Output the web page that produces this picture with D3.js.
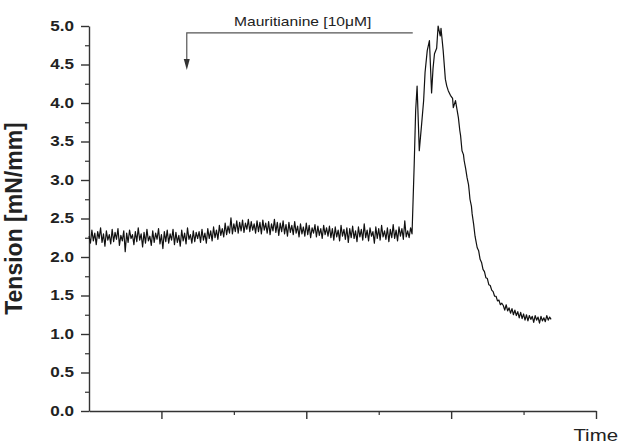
<!DOCTYPE html>
<html>
<head>
<meta charset="utf-8">
<script src="https://cdn.jsdelivr.net/npm/d3@7"></script>
<style>
  body { margin: 0; background: #fff; }
  text { font-family: "Liberation Sans", Arial, sans-serif; }
</style>
</head>
<body>
<div id="viz"></div>
<script>
// recording before the drug effect, one sample every 2 time units from t=0
var baseStep = 2;
var baseVals = [
  2.27, 2.18, 2.35, 2.21, 2.31, 2.16, 2.33, 2.24, 2.38, 2.19,
  2.30, 2.14, 2.34, 2.22, 2.29, 2.17, 2.36, 2.20, 2.32, 2.23,
  2.37, 2.15, 2.28, 2.21, 2.34, 2.07, 2.31, 2.19, 2.35, 2.24,
  2.29, 2.16, 2.33, 2.20, 2.38, 2.22, 2.30, 2.13, 2.32, 2.18,
  2.36, 2.21, 2.27, 2.15, 2.34, 2.19, 2.31, 2.23, 2.37, 2.17,
  2.29, 2.11, 2.33, 2.20, 2.35, 2.18, 2.30, 2.22, 2.36, 2.16,
  2.32, 2.19, 2.28, 2.14, 2.35, 2.21, 2.31, 2.17, 2.38, 2.23,
  2.29, 2.18, 2.34, 2.20, 2.32, 2.24,
  2.33, 2.19, 2.36, 2.22, 2.31, 2.18, 2.37, 2.24, 2.34, 2.21,
  2.39, 2.25, 2.35, 2.23, 2.41, 2.28, 2.37, 2.26, 2.44, 2.29,
  2.40, 2.31, 2.51, 2.30, 2.43, 2.33, 2.47, 2.31, 2.45, 2.34,
  2.48, 2.32, 2.44, 2.36, 2.49, 2.33, 2.46, 2.35, 2.43, 2.31,
  2.47, 2.33, 2.45, 2.30, 2.48, 2.35, 2.44, 2.31, 2.46, 2.29,
  2.43, 2.34, 2.49, 2.32, 2.45, 2.28, 2.44, 2.33, 2.47, 2.30,
  2.42, 2.27, 2.45, 2.32, 2.41, 2.29, 2.46, 2.31, 2.40, 2.26,
  2.43, 2.30, 2.39, 2.27, 2.44, 2.29, 2.41, 2.25, 2.38, 2.31,
  2.42, 2.26, 2.40, 2.28, 2.37, 2.24, 2.41, 2.29, 2.38, 2.27,
  2.40, 2.25, 2.37, 2.22, 2.39, 2.26, 2.35, 2.21, 2.41, 2.27,
  2.36, 2.23, 2.38, 2.19, 2.37, 2.25, 2.40, 2.24, 2.34, 2.20,
  2.39, 2.26, 2.36, 2.22, 2.43, 2.25, 2.35, 2.21, 2.38, 2.27,
  2.33, 2.18, 2.39, 2.24, 2.37, 2.22, 2.41, 2.26, 2.34, 2.23,
  2.38, 2.20, 2.36, 2.25, 2.42, 2.24, 2.35, 2.21, 2.39, 2.27,
  2.37, 2.23, 2.47, 2.26, 2.34, 2.25, 2.38, 2.30
];

// contraction and relaxation
var peakT = [449, 451, 453, 456, 459, 462, 464, 467, 470, 473, 475, 477, 480, 482, 485, 486, 489,
  492, 494, 496, 499, 502, 503, 506,
  510, 512, 513, 515, 517, 518, 520, 522, 524, 525, 526, 528, 529, 531, 533, 534, 536, 538,
  540, 542, 544, 546, 548, 550, 552, 554, 556, 558, 560, 562, 564, 566, 568, 570];
var peakV = [3.20, 3.90, 4.22, 3.38, 3.70, 4.03, 4.40, 4.68, 4.81, 4.13, 4.45, 4.64, 4.71, 5.00, 4.87, 4.97, 4.68,
  4.31, 4.22, 4.16, 4.10, 4.06, 3.94, 4.03,
  3.81, 3.64, 3.58, 3.38, 3.33, 3.25, 3.15, 3.03, 2.94, 2.85, 2.75, 2.66, 2.56, 2.43, 2.27, 2.22, 2.12, 2.08,
  1.97, 1.93, 1.84, 1.81, 1.73, 1.72, 1.64, 1.63, 1.57, 1.55, 1.49, 1.49, 1.43, 1.44, 1.38, 1.40];

// plateau after washout, one sample every 2 time units from t=572
var tailStart = 572;
var tailVals = [
  1.37, 1.31, 1.38, 1.30, 1.34, 1.27, 1.33, 1.25, 1.31, 1.24,
  1.29, 1.21, 1.28, 1.20, 1.26, 1.18, 1.25, 1.17, 1.24, 1.19,
  1.23, 1.15, 1.24, 1.18, 1.22, 1.14, 1.23, 1.17, 1.21, 1.16,
  1.24, 1.18, 1.22, 1.19
];

var yMajor = [0, 0.5, 1, 1.5, 2, 2.5, 3, 3.5, 4, 4.5, 5];
var yMinor = [0.25, 0.75, 1.25, 1.75, 2.25, 2.75, 3.25, 3.75, 4.25, 4.75];
var xMajor = [100, 300, 500, 700];
var xMinor = [200, 400, 600];

// drug added at t=135, response starts at t=447
var drug = {label: "Mauritianine [10\u03bcM]", start: 135, end: 447, labelAt: 295};

var points = [];
baseVals.forEach(function(v, i){ points.push({t: i * baseStep, v: v}) });
peakT.forEach(function(t, i){ points.push({t: t, v: peakV[i]}) });
tailVals.forEach(function(v, i){ points.push({t: tailStart + i * baseStep, v: v}) });

var width = 619, height = 446;

var svg = d3.select("#viz").append("svg")
  .attr("width", width)
  .attr("height", height);

var x = d3.scaleLinear().domain([0, 700]).range([89, 596]);
var y = d3.scaleLinear().domain([0, 5]).range([411, 26]);

// the source image is a little wider than tall, so text is stretched sideways
function stretch(sel, k){
  sel.each(function(){
    var w = this.getComputedTextLength();
    d3.select(this).attr("textLength", w * k).attr("lengthAdjust", "spacingAndGlyphs");
  });
}

var axisColor = "#333";

// y axis
var yAxis = svg.append("g")
  .attr("transform", "translate(" + x(0) + ",0)")
  .call(d3.axisLeft(y).tickValues(yMajor).tickFormat(d3.format(".1f")).tickSize(8).tickSizeOuter(0).tickPadding(7));
yAxis.select(".domain").attr("stroke", axisColor).attr("stroke-width", 1.4);
yAxis.selectAll(".tick line").attr("stroke", axisColor).attr("stroke-width", 1.4);
yAxis.selectAll(".tick text")
  .attr("font-family", "'Liberation Sans', Arial, sans-serif")
  .attr("font-size", 14).attr("font-weight", "bold").attr("fill", "#222")
  .call(stretch, 1.22);

var yMin = svg.append("g")
  .attr("transform", "translate(" + x(0) + ",0)")
  .call(d3.axisLeft(y).tickValues(yMinor).tickFormat("").tickSize(4));
yMin.select(".domain").remove();
yMin.selectAll(".tick line").attr("stroke", axisColor).attr("stroke-width", 1.2);

// x axis
var xAxis = svg.append("g")
  .attr("transform", "translate(0," + y(0) + ")")
  .call(d3.axisBottom(x).tickValues(xMajor).tickFormat("").tickSize(8).tickSizeOuter(0));
xAxis.select(".domain").attr("stroke", axisColor).attr("stroke-width", 1.4);
xAxis.selectAll(".tick line").attr("stroke", axisColor).attr("stroke-width", 1.4);

var xMin = svg.append("g")
  .attr("transform", "translate(0," + y(0) + ")")
  .call(d3.axisBottom(x).tickValues(xMinor).tickFormat("").tickSize(4));
xMin.select(".domain").remove();
xMin.selectAll(".tick line").attr("stroke", axisColor).attr("stroke-width", 1.2);

// axis titles
svg.append("text")
  .attr("transform", "rotate(-90)")
  .attr("x", -(y(0) + y(5)) / 2)
  .attr("y", 22)
  .attr("text-anchor", "middle")
  .attr("font-size", 23)
  .attr("font-weight", "bold")
  .attr("fill", "#222")
  .text("Tension [mN/mm]");

svg.append("text")
  .attr("x", 618)
  .attr("y", 441)
  .attr("text-anchor", "end")
  .attr("font-size", 17)
  .attr("fill", "#222")
  .text("Time")
  .call(stretch, 1.2);

// trace
var line = d3.line()
  .x(function(d){ return x(d.t) })
  .y(function(d){ return y(d.v) });

svg.append("path")
  .datum(points)
  .attr("fill", "none")
  .attr("stroke", "#111")
  .attr("stroke-width", 1.2)
  .attr("stroke-linejoin", "round")
  .attr("d", line);

// drug annotation
var annY = 4.91, tipY = 4.43;
var annColor = "#555";

svg.append("path")
  .attr("fill", "none")
  .attr("stroke", annColor)
  .attr("stroke-width", 1.2)
  .attr("d", "M" + x(drug.end) + "," + y(annY) + "H" + x(drug.start) + "V" + (y(tipY) - 10));

svg.append("path")
  .attr("fill", "#333")
  .attr("d", "M" + (x(drug.start) - 3) + "," + (y(tipY) - 11) +
             "L" + (x(drug.start) + 3) + "," + (y(tipY) - 11) +
             "L" + x(drug.start) + "," + y(tipY) + "Z");

svg.append("text")
  .attr("x", x(drug.labelAt))
  .attr("y", 26)
  .attr("text-anchor", "middle")
  .attr("font-size", 13)
  .attr("fill", "#222")
  .text(drug.label)
  .call(stretch, 1.2);
</script>
</body>
</html>
